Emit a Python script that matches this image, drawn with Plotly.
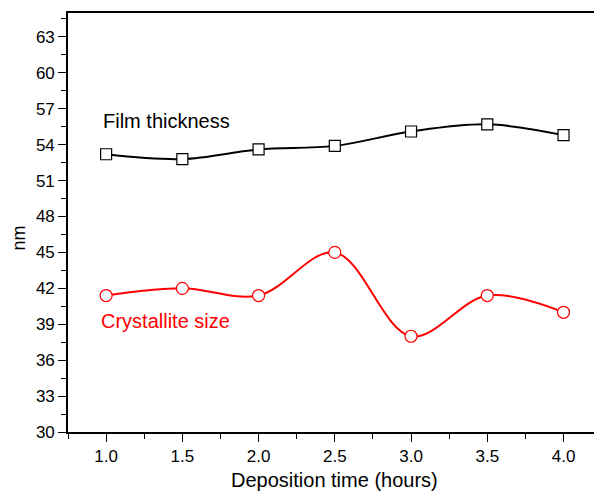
import plotly.graph_objects as go

time_h = [1.0, 1.5, 2.0, 2.5, 3.0, 3.5, 4.0]
film_thickness = [53.2, 52.8, 53.6, 53.9, 55.1, 55.7, 54.8]
crystallite_size = [41.4, 42.0, 41.4, 45.0, 38.0, 41.4, 40.0]
x_ticks = [1.0, 1.5, 2.0, 2.5, 3.0, 3.5, 4.0]
y_ticks = [30, 33, 36, 39, 42, 45, 48, 51, 54, 57, 60, 63]

FONT = "Liberation Sans, Arial, sans-serif"

fig = go.Figure()
fig.add_trace(go.Scatter(
    x=time_h, y=film_thickness, mode="lines+markers",
    line=dict(color="black", width=2, shape="spline", smoothing=1.0),
    marker=dict(symbol="square", size=11, color="white", line=dict(color="black", width=1.2)),
    name="Film thickness", showlegend=False))
fig.add_trace(go.Scatter(
    x=time_h, y=crystallite_size, mode="lines+markers",
    line=dict(color="#ff0000", width=2, shape="spline", smoothing=1.0),
    marker=dict(symbol="circle", size=12, color="white", line=dict(color="#ff0000", width=1.2)),
    name="Crystallite size", showlegend=False))

fig.add_annotation(x=0.966, y=56.0, text="Film thickness", showarrow=False,
                   xanchor="left", yanchor="middle", font=dict(family=FONT, size=20, color="black"))
fig.add_annotation(x=0.953, y=39.25, text="Crystallite size", showarrow=False,
                   xanchor="left", yanchor="middle", font=dict(family=FONT, size=20, color="#ff0000"))

fig.add_annotation(xref="paper", yref="paper", x=0.507, y=-0.115, text="Deposition time (hours)",
                   showarrow=False, xanchor="center", yanchor="middle",
                   font=dict(family=FONT, size=20, color="black"))
fig.add_annotation(xref="paper", yref="paper", x=0, y=0.5, text="nm", textangle=-90,
                   showarrow=False, xanchor="center", yanchor="middle", xshift=-50, yshift=-16,
                   font=dict(family=FONT, size=18, color="black"))

axis_common = dict(showgrid=False, zeroline=False, showline=True, linecolor="black", linewidth=1.6,
                   ticks="outside", tickcolor="black", tickwidth=1.3, ticklen=8,
                   tickfont=dict(family=FONT, size=17, color="black"))

fig.update_xaxes(range=[0.75, 4.2], tickvals=x_ticks, ticktext=[f"{v:.1f}" for v in x_ticks],
                 mirror=True,
                 minor=dict(dtick=0.25, tick0=0.75, ticks="outside", ticklen=5, tickcolor="black", tickwidth=1.3),
                 **axis_common)
fig.update_yaxes(range=[30, 65], tickvals=y_ticks, ticktext=[str(v) for v in y_ticks],
                 minor=dict(dtick=1.5, tick0=30, ticks="outside", ticklen=5, tickcolor="black", tickwidth=1.3),
                 **axis_common)

fig.update_layout(width=594, height=491, margin=dict(l=68, r=0, t=13, b=59),
                  paper_bgcolor="white", plot_bgcolor="white",
                  font=dict(family=FONT, color="black"))

fig.write_html("out.html")
